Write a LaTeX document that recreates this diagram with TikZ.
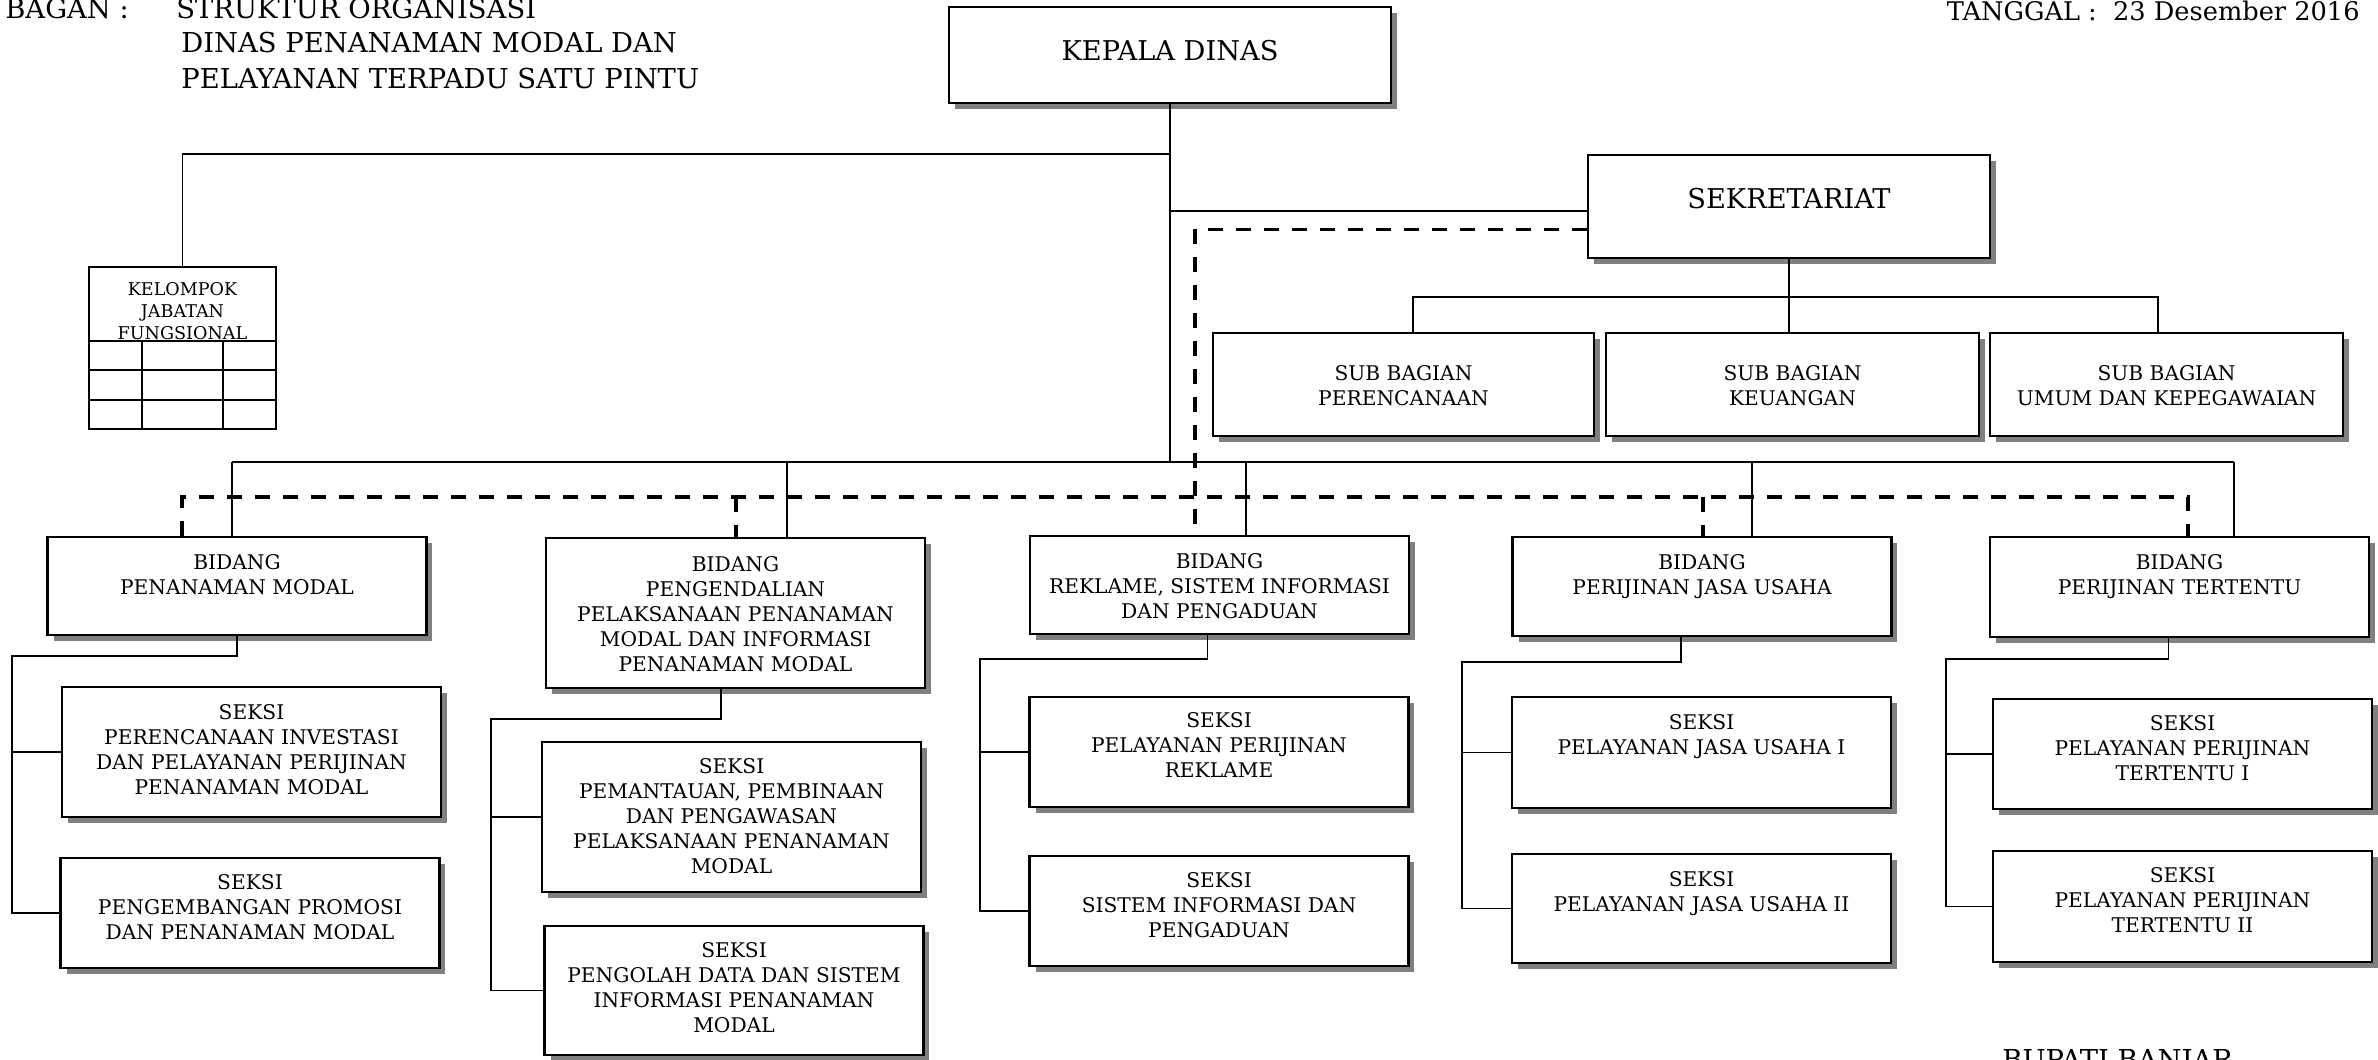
\documentclass[tikz,border=0pt]{standalone}
\usepackage{fontspec}
\setmainfont{DejaVu Serif}
\usetikzlibrary{positioning,shadows}

\begin{document}
\begin{tikzpicture}[
    x=0.02cm, y=-0.02cm,
    kotak/.style={draw, fill=white, line width=0.045cm, inner sep=0pt,
        drop shadow={shadow xshift=0.12cm, shadow yshift=-0.12cm, fill=black!50, opacity=1}},
    bidang/.style={kotak, minimum width=7.58cm},
    isi/.style={align=center, inner sep=0pt, font=\fontsize{11.5}{14.2}\selectfont},
    besar/.style={align=center, inner sep=0pt, font=\fontsize{15.5}{19}\selectfont},
    judul/.style={anchor=base west, inner sep=0pt, font=\fontsize{15.6}{18}\selectfont},
    garis/.style={line width=0.035cm},
    putus/.style={line width=0.07cm, dash pattern=on 0.3cm off 0.26cm}
]
\useasboundingbox (0,0) rectangle (2378,1060);

\node[judul] (bagan) at (5,19) {BAGAN :};
\node[judul] (judul1) at (176,19) {STRUKTUR ORGANISASI};
\node[judul] (judul2) at (181,53) {DINAS PENANAMAN MODAL DAN};
\node[judul] (judul3) at (181,89) {PELAYANAN TERPADU SATU PINTU};
\node[judul, anchor=base east, font=\fontsize{14.6}{18}\selectfont] (tanggal) at (2360,21) {TANGGAL :~~23 Desember 2016};
\node[judul] (bupati) at (2002,1069) {BUPATI BANJAR};

\node[kotak, minimum width=8.84cm, minimum height=1.92cm] (kadis) at (1170,55) {};
\node[besar, below=0.68cm of kadis.north] (kadist) {KEPALA DINAS};
\node[kotak, minimum width=8.04cm, minimum height=2.06cm] (sekre) at (1789,206.5) {};
\node[besar, below=0.68cm of sekre.north] (sekret) {SEKRETARIAT};

\node[kotak, minimum width=7.62cm, minimum height=2.06cm] (sb1) at (1403.5,384.5) {};
\node[isi, below=0.66cm of sb1.north] (sb1t) {SUB BAGIAN\\PERENCANAAN};
\node[kotak, minimum width=7.46cm, minimum height=2.06cm] (sb2) at (1792.5,384.5) {};
\node[isi, below=0.66cm of sb2.north] (sb2t) {SUB BAGIAN\\KEUANGAN};
\node[kotak, minimum width=7.06cm, minimum height=2.06cm] (sb3) at (2166.5,384.5) {};
\node[isi, below=0.66cm of sb3.north] (sb3t) {SUB BAGIAN\\UMUM DAN KEPEGAWAIAN};

\node[draw, line width=0.035cm, minimum width=3.74cm, minimum height=3.24cm, inner sep=0pt] (kjf) at (182.5,348) {};
\foreach \y in {341,370,400}
    \draw[garis] (kjf.west |- 0,\y) -- (kjf.east |- 0,\y);
\foreach \x in {142,223}
    \draw[garis] (kjf.south -| \x,0) -- (\x,341);
\node[align=center, inner sep=0pt, font=\fontsize{10}{12.5}\selectfont, below=0.32cm of kjf.north] (kjft) {KELOMPOK\\JABATAN\\FUNGSIONAL};

\node[bidang, minimum height=1.96cm] (bd1) at (237,586) {};
\node[isi, below=0.36cm of bd1.north] (bd1t) {BIDANG\\PENANAMAN MODAL};
\node[bidang, minimum height=3cm] (bd2) at (735.5,613) {};
\node[isi, below=0.38cm of bd2.north] (bd2t) {BIDANG\\PENGENDALIAN\\PELAKSANAAN PENANAMAN\\MODAL DAN INFORMASI\\PENANAMAN MODAL};
\node[bidang, minimum height=1.96cm] (bd3) at (1219.5,585) {};
\node[isi, below=0.36cm of bd3.north] (bd3t) {BIDANG\\REKLAME, SISTEM INFORMASI\\DAN PENGADUAN};
\node[bidang, minimum height=1.98cm] (bd4) at (1702,586.5) {};
\node[isi, below=0.36cm of bd4.north] (bd4t) {BIDANG\\PERIJINAN JASA USAHA};
\node[bidang, minimum height=2cm] (bd5) at (2179.5,587) {};
\node[isi, below=0.36cm of bd5.north] (bd5t) {BIDANG\\PERIJINAN TERTENTU};

\node[bidang, minimum height=2.6cm] (sk11) at (251.5,752) {};
\node[isi, below=0.36cm of sk11.north] (sk11t) {SEKSI\\PERENCANAAN INVESTASI\\DAN PELAYANAN PERIJINAN\\PENANAMAN MODAL};
\node[bidang, minimum height=2.2cm] (sk12) at (250,913) {};
\node[isi, below=0.34cm of sk12.north] (sk12t) {SEKSI\\PENGEMBANGAN PROMOSI\\DAN PENANAMAN MODAL};
\node[bidang, minimum height=3cm] (sk21) at (731.5,817) {};
\node[isi, below=0.34cm of sk21.north] (sk21t) {SEKSI\\PEMANTAUAN, PEMBINAAN\\DAN PENGAWASAN\\PELAKSANAAN PENANAMAN\\MODAL};
\node[bidang, minimum height=2.58cm] (sk22) at (734,990.5) {};
\node[isi, below=0.34cm of sk22.north] (sk22t) {SEKSI\\PENGOLAH DATA DAN SISTEM\\INFORMASI PENANAMAN\\MODAL};
\node[bidang, minimum height=2.2cm] (sk31) at (1219,752) {};
\node[isi, below=0.33cm of sk31.north] (sk31t) {SEKSI\\PELAYANAN PERIJINAN\\REKLAME};
\node[bidang, minimum height=2.2cm] (sk32) at (1219,911) {};
\node[isi, below=0.34cm of sk32.north] (sk32t) {SEKSI\\SISTEM INFORMASI DAN\\PENGADUAN};
\node[bidang, minimum height=2.22cm] (sk41) at (1701.5,752.5) {};
\node[isi, below=0.36cm of sk41.north] (sk41t) {SEKSI\\PELAYANAN JASA USAHA I};
\node[bidang, minimum height=2.18cm] (sk42) at (1701.5,908.5) {};
\node[isi, below=0.36cm of sk42.north] (sk42t) {SEKSI\\PELAYANAN JASA USAHA II};
\node[bidang, minimum height=2.2cm] (sk51) at (2182.5,754) {};
\node[isi, below=0.34cm of sk51.north] (sk51t) {SEKSI\\PELAYANAN PERIJINAN\\TERTENTU I};
\node[bidang, minimum height=2.22cm] (sk52) at (2182.5,906.5) {};
\node[isi, below=0.34cm of sk52.north] (sk52t) {SEKSI\\PELAYANAN PERIJINAN\\TERTENTU II};

\coordinate (kk) at (1170,154);
\coordinate (ks) at (1170,211);
\coordinate (sbus) at (1789,297);
\coordinate (j1) at (232,462);
\coordinate (j2) at (787,462);
\coordinate (j3) at (1246,462);
\coordinate (j4) at (1752,462);
\coordinate (j5) at (2234,462);
\coordinate (d1) at (182,497);
\coordinate (d2) at (736,497);
\coordinate (d3) at (1195,497);
\coordinate (d4) at (1703,497);
\coordinate (d5) at (2188,497);
\coordinate (t1) at (12,656);
\coordinate (t2) at (491,719);
\coordinate (t3) at (980,659);
\coordinate (t4) at (1462,662);
\coordinate (t5) at (1946,659);

\draw[garis] (kadis.south) -- (kadis.south |- j1);
\draw[garis] (kk) -| (kjf.north);
\draw[garis] (ks) -- (ks -| sekre.west);
\draw[garis] (sekre.south) -- (sekre.south |- sb2.north);
\draw[garis] ([xshift=0.19cm]sb1.north) |- (sbus) -| ([xshift=-0.17cm]sb3.north);
\draw[garis] (j1) -- (j5);
\foreach \j/\b in {j1/bd1,j2/bd2,j3/bd3,j4/bd4,j5/bd5}
    \draw[garis] (\j) -- (\j |- \b.north);

\draw[putus] ([yshift=-0.46cm]sekre.west) -| (d3 |- bd3.north);
\draw[putus] (d1 |- bd1.north) -- (d1) -- (d5) -- (d5 |- bd5.north);
\draw[putus] (d2) -- (d2 |- bd2.north);
\draw[putus] (d4) -- (d4 |- bd4.north);

\draw[garis] (bd1.south) |- (t1) |- (sk12.west);
\draw[garis] (t1 |- sk11.west) -- (sk11.west);
\draw[garis] ([xshift=-0.29cm]bd2.south) |- (t2) |- (sk22.west);
\draw[garis] (t2 |- sk21.west) -- (sk21.west);
\draw[garis] ([xshift=-0.24cm]bd3.south) |- (t3) |- (sk32.west);
\draw[garis] (t3 |- sk31.west) -- (sk31.west);
\draw[garis] ([xshift=-0.42cm]bd4.south) |- (t4) |- (sk42.west);
\draw[garis] (t4 |- sk41.west) -- (sk41.west);
\draw[garis] ([xshift=-0.22cm]bd5.south) |- (t5) |- (sk52.west);
\draw[garis] (t5 |- sk51.west) -- (sk51.west);
\end{tikzpicture}
\end{document}
